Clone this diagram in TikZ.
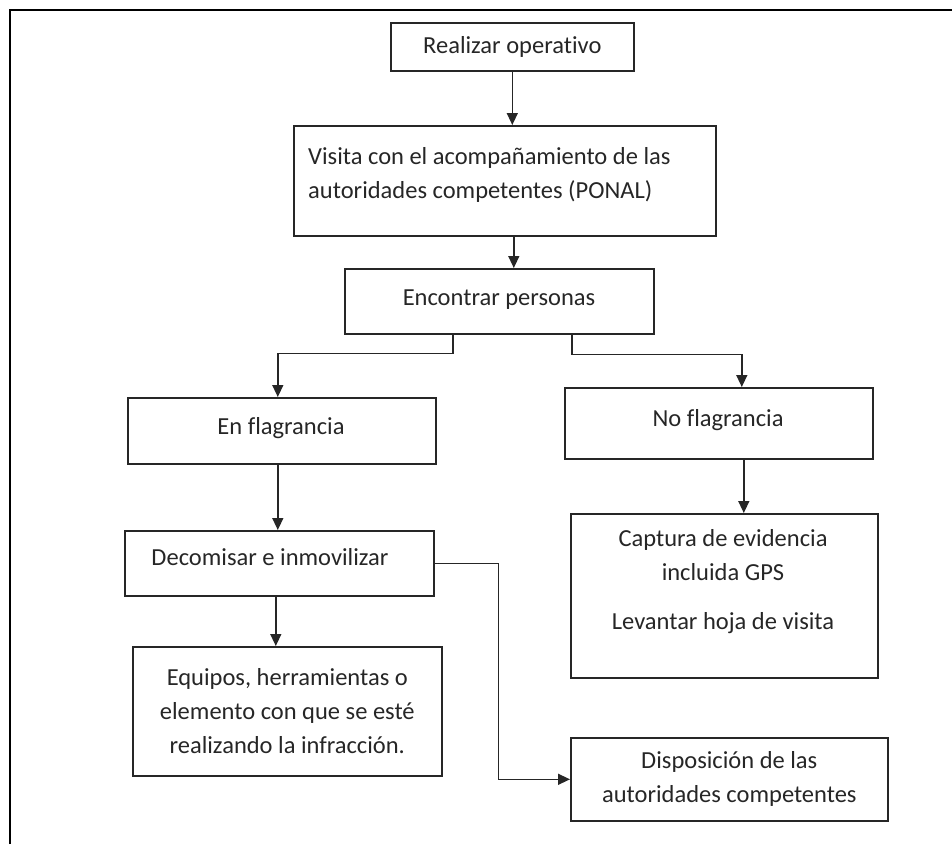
\documentclass[tikz,border=0pt]{standalone}
\usepackage{fontspec}
\setmainfont{Carlito}[Ligatures=NoCommon]
\usetikzlibrary{arrows.meta}
\tikzset{
  box/.style={draw=black!85, line width=1.6pt, inner sep=0},
  txt/.style={align=center, inner sep=0, text=black!85, font=\fontsize{24.5}{34}\selectfont},
  flow/.style={line width=1.4pt, draw=black!85, -{Triangle[length=12pt, width=11pt]}}
}
\newcommand\caja[5]{\node [box, anchor=north west, minimum width=#4pt, minimum height=#5pt] (#1) at (#2, #3) {};}

\begin{document}
\begin{tikzpicture}[x=1pt, y=-1pt]
     \useasboundingbox (0, 0) rectangle (952, 844);
     \draw [line width=1.6pt] (10, 844) -- (10, 10) -- (952, 10);

     \caja{realizar}{390}{22}{243}{48}
     \caja{visita}{293}{125}{422}{110}
     \caja{encontrar}{344}{268}{309}{65}
     \caja{enflag}{127}{397}{308}{66}
     \caja{noflag}{564}{387}{308}{71}
     \caja{decomisar}{124}{530}{309}{65}
     \caja{equipos}{132}{646}{309}{129}
     \caja{captura}{570}{513}{307}{164}
     \caja{disposicion}{570}{737}{317}{83}

     \node [txt] (t-realizar) at (realizar) {Realizar operativo};
     \node [txt, align=left, anchor=north west] (t-visita) at (308, 147) {Visita con el acompañamiento de las\\autoridades competentes (PONAL)};
     \node [txt] (t-encontrar) at (499, 300) {Encontrar personas};
     \node [txt] (t-enflag) at (281, 428) {En flagrancia};
     \node [txt] (t-noflag) at (718, 420) {No flagrancia};
     \node [txt] (t-decomisar) at (270, 557) {Decomisar e inmovilizar};
     \node [txt] (t-equipos) at (equipos) {Equipos, herramientas o\\elemento con que se esté\\realizando la infracción.};
     \node [txt] (t-captura) at (723, 555) {Captura de evidencia\\incluida GPS};
     \node [txt] (t-levantar) at (723, 623) {Levantar hoja de visita};
     \node [txt] (t-disposicion) at (disposicion) {Disposición de las\\autoridades competentes};

     \draw [flow] (realizar.south) -- (realizar.south |- visita.north);
     \draw [flow] ([xshift=9pt]visita.south) -- ([xshift=9pt]visita.south |- encontrar.north);
     \draw [flow] ([xshift=-46.5pt]encontrar.south) -- ++(0, 19) -| ([xshift=-4pt]enflag.north);
     \draw [flow] ([xshift=72.5pt]encontrar.south) -- ++(0, 20) -| ([xshift=23pt]noflag.north);
     \draw [flow] ([xshift=25pt]noflag.south) -- ([xshift=25pt]noflag.south |- captura.north);
     \draw [flow] ([xshift=-4pt]enflag.south) -- ([xshift=-4pt]enflag.south |- decomisar.north);
     \draw [flow] ([xshift=-3.5pt]decomisar.south) -- ([xshift=-3.5pt]decomisar.south |- equipos.north);
     \draw [flow] (decomisar.east) -- ++(64, 0) |- (disposicion.west);
    \end{tikzpicture}
\end{document}
